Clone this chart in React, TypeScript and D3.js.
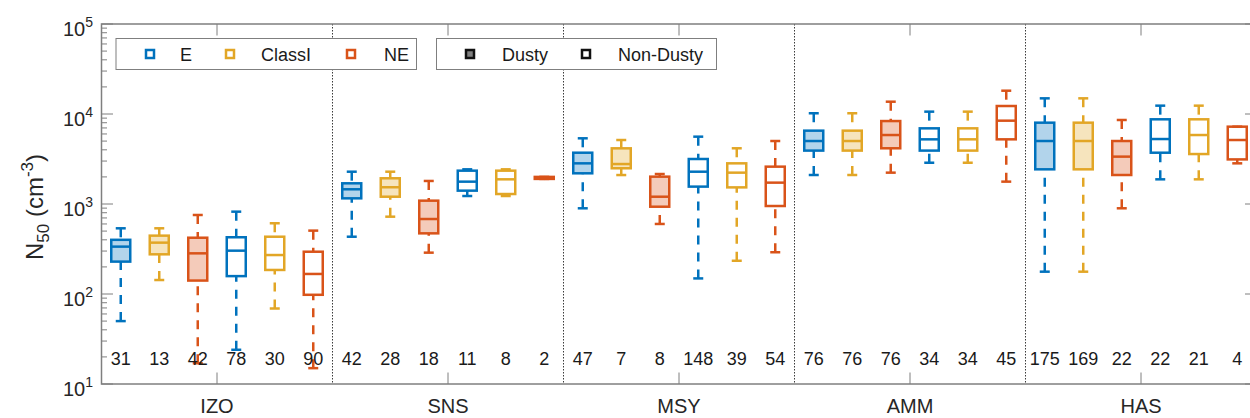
import React, { useEffect, useRef } from 'react';
import * as d3 from 'd3';

// sites and box order inside each site
const sites = ['IZO', 'SNS', 'MSY', 'AMM', 'HAS'];
const types = ['E', 'ClassI', 'NE'];
const conditions = ['Dusty', 'Non-Dusty'];

// 6 boxes per site: Dusty E, Dusty ClassI, Dusty NE, Non-Dusty E, Non-Dusty ClassI, Non-Dusty NE
const counts = [
  [31, 13, 42, 78, 30, 90],
  [42, 28, 18, 11, 8, 2],
  [47, 7, 8, 148, 39, 54],
  [76, 76, 76, 34, 34, 45],
  [175, 169, 22, 22, 21, 4],
];
const whiskerLow = [
  [50, 143, 17, 24, 69, 15],
  [433, 723, 288, 1227, 1227, 1900],
  [896, 2098, 600, 149, 234, 291],
  [2100, 2100, 2230, 2875, 2875, 1772],
  [177, 177, 896, 1880, 1880, 2830],
];
const q1 = [
  [229, 276, 141, 158, 185, 98],
  [1156, 1205, 472, 1407, 1291, 1900],
  [2193, 2495, 933, 1560, 1530, 950],
  [3920, 3920, 4160, 3920, 3920, 5230],
  [2428, 2428, 2100, 3715, 3590, 3130],
];
const median = [
  [336, 372, 283, 303, 271, 167],
  [1457, 1535, 681, 1771, 1880, 1950],
  [2830, 2780, 1205, 2285, 2230, 1727],
  [5010, 5010, 5840, 5230, 5230, 8430],
  [5010, 5010, 3360, 5270, 5840, 5140],
];
const q3 = [
  [400, 445, 422, 427, 433, 295],
  [1698, 1931, 1089, 2346, 2346, 2000],
  [3715, 4155, 2013, 3162, 2830, 2600],
  [6530, 6530, 8350, 6930, 6930, 12270],
  [8010, 8010, 5010, 8730, 8730, 7230],
];
const whiskerHigh = [
  [537, 537, 755, 822, 611, 506],
  [2285, 2285, 1803, 2428, 2428, 2000],
  [5370, 5140, 2154, 5600, 4160, 5010],
  [10190, 10190, 13700, 10620, 10620, 18150],
  [14930, 14930, 8580, 12380, 12380, 7230],
];
const yTickExponents = [1, 2, 3, 4, 5];

const colors = { E: '#0072BD', ClassI: '#E2A626', NE: '#D95319' };
const font = 'Liberation Sans, Arial, Helvetica, sans-serif';
const axisColor = '#7f7f7f';

const App = () => {
  const ref = useRef(null);

  useEffect(() => {
    const svg = d3.select(ref.current);
    svg.selectAll('*').remove();

    const left = 101.5, right = 1256.5, top = 24, bottom = 384;
    const x = d3.scaleLinear().domain([0.5, 30.5]).range([left, right]);
    const y = d3.scaleLog().domain([10, 1e5]).range([bottom, top]);

    // flatten boxes
    const boxes = [];
    sites.forEach((s, si) => {
      for (let k = 0; k < 6; k++) {
        boxes.push({
          pos: si * 6 + k + 1,
          type: types[k % 3],
          dusty: k < 3,
          n: counts[si][k],
          lo: whiskerLow[si][k],
          q1: q1[si][k],
          med: median[si][k],
          q3: q3[si][k],
          hi: whiskerHigh[si][k],
        });
      }
    });

    // site dividers
    svg.append('g')
      .selectAll('line')
      .data(d3.range(1, sites.length))
      .enter()
      .append('line')
      .attr('x1', d => x(d * 6 + 0.5))
      .attr('x2', d => x(d * 6 + 0.5))
      .attr('y1', top)
      .attr('y2', bottom)
      .attr('stroke', '#3a3a3a')
      .attr('stroke-width', 1)
      .attr('stroke-dasharray', '1.5,1.5');

    // axes frame
    svg.append('rect')
      .attr('x', left).attr('y', top)
      .attr('width', right - left).attr('height', bottom - top)
      .attr('fill', 'none')
      .attr('stroke', axisColor)
      .attr('stroke-width', 1.5);

    // y ticks, major and minor, on both sides
    const minor = [];
    yTickExponents.slice(0, -1).forEach(e => {
      for (let m = 2; m <= 9; m++) minor.push(m * Math.pow(10, e));
    });
    const ticks = svg.append('g').attr('stroke', axisColor).attr('stroke-width', 1);
    yTickExponents.forEach(e => {
      const yy = y(Math.pow(10, e));
      ticks.append('line').attr('x1', left).attr('x2', left + 11.5).attr('y1', yy).attr('y2', yy);
      ticks.append('line').attr('x1', right).attr('x2', right - 11.5).attr('y1', yy).attr('y2', yy);
    });
    minor.forEach(v => {
      const yy = y(v);
      ticks.append('line').attr('x1', left).attr('x2', left + 5.5).attr('y1', yy).attr('y2', yy);
      ticks.append('line').attr('x1', right).attr('x2', right - 5.5).attr('y1', yy).attr('y2', yy);
    });
    // x ticks at site centers
    sites.forEach((s, si) => {
      const xx = x(si * 6 + 3.5);
      ticks.append('line').attr('x1', xx).attr('x2', xx).attr('y1', bottom).attr('y2', bottom - 11.5);
      ticks.append('line').attr('x1', xx).attr('x2', xx).attr('y1', top).attr('y2', top + 11.5);
    });

    // y tick labels 10^e
    yTickExponents.forEach(e => {
      const t = svg.append('text')
        .attr('x', 93)
        .attr('y', y(Math.pow(10, e)) + 12)
        .attr('text-anchor', 'end')
        .attr('fill', '#262626')
        .style('font-family', font)
        .style('font-size', '20px');
      t.append('tspan').text('10');
      t.append('tspan').attr('dy', -9).style('font-size', '14px').text(e);
    });

    // x labels
    svg.append('g')
      .selectAll('text')
      .data(sites)
      .enter()
      .append('text')
      .attr('x', (d, i) => x(i * 6 + 3.5))
      .attr('y', 413)
      .attr('text-anchor', 'middle')
      .attr('fill', '#262626')
      .style('font-family', font)
      .style('font-size', '20px')
      .text(d => d);

    // y label N_50 (cm^-3)
    const yl = svg.append('text')
      .attr('transform', 'translate(43,207) rotate(-90)')
      .attr('text-anchor', 'middle')
      .attr('fill', '#262626')
      .style('font-family', font)
      .style('font-size', '24px');
    yl.append('tspan').text('N');
    yl.append('tspan').attr('dy', 6).style('font-size', '17px').text('50');
    yl.append('tspan').attr('dy', -6).text('\u00a0(cm');
    yl.append('tspan').attr('dy', -10).style('font-size', '17px').text('-3');
    yl.append('tspan').attr('dy', 10).text(')');

    // boxes
    const bw = 19, cw = 10;
    const g = svg.append('g').attr('fill', 'none').attr('stroke-width', 2.5);
    boxes.forEach(b => {
      const cx = x(b.pos);
      const c = colors[b.type];
      const bg = g.append('g').attr('stroke', c);
      // whiskers, dashed from cap toward box
      bg.append('line')
        .attr('x1', cx).attr('x2', cx)
        .attr('y1', y(b.hi)).attr('y2', y(b.q3))
        .attr('stroke-dasharray', '9,8');
      bg.append('line')
        .attr('x1', cx).attr('x2', cx)
        .attr('y1', y(b.lo)).attr('y2', y(b.q1))
        .attr('stroke-dasharray', '9,8');
      // caps
      [b.hi, b.lo].forEach(v => {
        bg.append('line')
          .attr('x1', cx - cw / 2).attr('x2', cx + cw / 2)
          .attr('y1', y(v)).attr('y2', y(v));
      });
      bg.append('rect')
        .attr('x', cx - bw / 2)
        .attr('y', y(b.q3))
        .attr('width', bw)
        .attr('height', Math.max(0.5, y(b.q1) - y(b.q3)))
        .attr('fill', b.dusty ? c : 'none')
        .attr('fill-opacity', b.dusty ? 0.3 : 0);
      bg.append('line')
        .attr('x1', cx - bw / 2).attr('x2', cx + bw / 2)
        .attr('y1', y(b.med)).attr('y2', y(b.med));
    });

    // counts
    svg.append('g')
      .selectAll('text')
      .data(boxes)
      .enter()
      .append('text')
      .attr('x', d => x(d.pos))
      .attr('y', 365)
      .attr('text-anchor', 'middle')
      .attr('fill', '#1a1a1a')
      .style('font-family', font)
      .style('font-size', '18px')
      .text(d => d.n);

    // legend 1: types
    const leg1 = svg.append('g');
    leg1.append('rect')
      .attr('x', 116).attr('y', 38.5).attr('width', 300.5).attr('height', 31)
      .attr('fill', 'white').attr('stroke', axisColor).attr('stroke-width', 1);
    const typeMarkers = [150, 230, 351];
    const typeText = [180, 261, 384];
    types.forEach((t, i) => {
      leg1.append('rect')
        .attr('x', typeMarkers[i] - 4).attr('y', 50).attr('width', 8).attr('height', 8)
        .attr('fill', 'white').attr('stroke', colors[t]).attr('stroke-width', 2.5);
      leg1.append('text')
        .attr('x', typeText[i]).attr('y', 60.5)
        .attr('fill', '#1a1a1a')
        .style('font-family', font)
        .style('font-size', '18px')
        .text(t);
    });

    // legend 2: conditions
    const leg2 = svg.append('g');
    leg2.append('rect')
      .attr('x', 436.5).attr('y', 38.5).attr('width', 280).attr('height', 31)
      .attr('fill', 'white').attr('stroke', axisColor).attr('stroke-width', 1);
    const condMarkers = [470, 586];
    const condText = [502, 618];
    conditions.forEach((c, i) => {
      leg2.append('rect')
        .attr('x', condMarkers[i] - 4).attr('y', 50).attr('width', 8).attr('height', 8)
        .attr('fill', i === 0 ? '#808080' : 'white').attr('stroke', '#111').attr('stroke-width', 2.5);
      leg2.append('text')
        .attr('x', condText[i]).attr('y', 60.5)
        .attr('fill', '#1a1a1a')
        .style('font-family', font)
        .style('font-size', '18px')
        .text(c);
    });
  }, []);

  return (
    <svg
      ref={ref}
      width={1250}
      height={418}
      style={{ position: 'absolute', left: 0, top: 0, background: 'white' }}
    />
  );
};

export default App;
